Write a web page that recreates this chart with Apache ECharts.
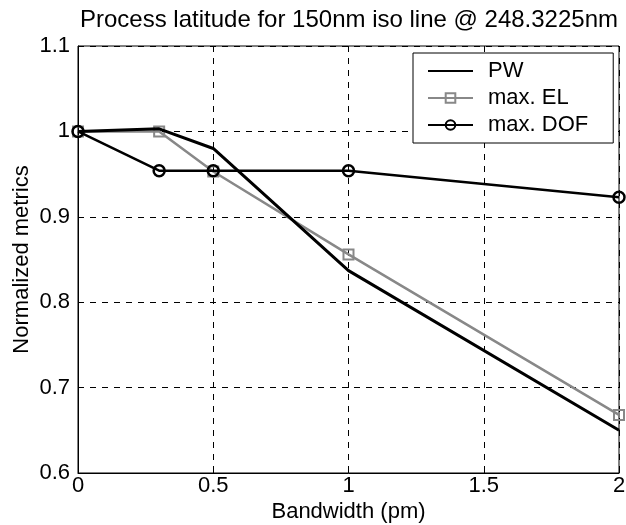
<!DOCTYPE html>
<html>
<head>
<meta charset="utf-8">
<script src="https://cdn.jsdelivr.net/npm/echarts@6/dist/echarts.min.js"></script>
<style>
  html, body { margin: 0; padding: 0; background: #fff; overflow: hidden; }
  #chart { width: 626px; height: 525px; display: block; }
</style>
</head>
<body>
<div id="chart"></div>
<script>
// Bandwidth values (pm) and normalized process-window metrics
const bandwidth = [0, 0.3, 0.5, 1, 2];
const pw        = [1.0, 1.003, 0.980, 0.837, 0.650];
const maxEL     = [1.0, 1.000, 0.953, 0.856, 0.668];
const maxDOF    = [1.0, 0.954, 0.954, 0.954, 0.923];

const xTicks = ['0', '0.5', '1', '1.5', '2'];
const yTicks = ['0.6', '0.7', '0.8', '0.9', '1', '1.1'];

const FONT = 'Liberation Sans, Arial, sans-serif';

function pairs(ys) {
  return bandwidth.map((x, i) => [x, ys[i]]);
}

const chart = echarts.init(document.getElementById('chart'), null, { renderer: 'canvas', width: 626, height: 525 });

chart.setOption({
  backgroundColor: '#fff',
  animation: false,
  title: {
    text: 'Process latitude for 150nm iso line @ 248.3225nm',
    left: 344,
    textAlign: 'center',
    top: 3,
    textStyle: { fontFamily: FONT, fontSize: 24, fontWeight: 'normal', color: '#000' }
  },
  legend: {
    orient: 'vertical',
    left: 413,
    top: 53,
    padding: [7, 25, 7, 14],
    itemGap: 5,
    itemWidth: 45,
    itemHeight: 12,
    backgroundColor: '#fff',
    borderColor: '#000',
    borderWidth: 1,
    textStyle: { fontFamily: FONT, fontSize: 22, color: '#000', padding: [0, 0, 0, 10] },
    data: [
      { name: 'PW', itemStyle: { opacity: 0 } },
      'max. EL',
      'max. DOF'
    ]
  },
  grid: {
    left: 78,
    right: 7,
    top: 46,
    bottom: 52,
    containLabel: false,
    outerBoundsMode: 'none',
    show: true,
    borderColor: '#000',
    borderWidth: 1,
    backgroundColor: '#fff'
  },
  xAxis: {
    type: 'value',
    min: 0,
    max: 2,
    interval: 0.5,
    name: 'Bandwidth (pm)',
    nameLocation: 'middle',
    nameGap: 28,
    nameMoveOverlap: false,
    nameTextStyle: { fontFamily: FONT, fontSize: 22, color: '#000' },
    axisLine: { show: true, lineStyle: { color: '#000', width: 1 } },
    axisTick: { show: true, inside: true, length: 5, lineStyle: { color: '#000' } },
    axisLabel: {
      fontFamily: FONT, fontSize: 22, color: '#000', margin: 2,
      formatter: v => xTicks[Math.round(v / 0.5)]
    },
    splitLine: { show: true, lineStyle: { color: '#000', type: [6, 6], width: 1 } }
  },
  yAxis: {
    type: 'value',
    min: 0.6,
    max: 1.1,
    interval: 0.1,
    name: 'Normalized metrics',
    nameLocation: 'middle',
    nameGap: 45,
    nameMoveOverlap: false,
    nameTextStyle: { fontFamily: FONT, fontSize: 22, color: '#000' },
    axisLine: { show: true, lineStyle: { color: '#000', width: 1 } },
    axisTick: { show: true, inside: true, length: 5, lineStyle: { color: '#000' } },
    axisLabel: {
      fontFamily: FONT, fontSize: 22, color: '#000', margin: 8,
      formatter: v => yTicks[Math.round((v - 0.6) / 0.1)]
    },
    splitLine: { show: true, lineStyle: { color: '#000', type: [6, 6], width: 1 } }
  },
  series: [
    {
      name: 'PW',
      type: 'line',
      data: pairs(pw),
      symbol: 'none',
      lineStyle: { color: '#000', width: 3 },
      itemStyle: { color: '#000' },
      z: 3
    },
    {
      name: 'max. EL',
      type: 'line',
      data: pairs(maxEL),
      symbol: 'rect',
      symbolSize: 10,
      lineStyle: { color: '#888', width: 2.5 },
      itemStyle: { color: 'rgba(255,255,255,0)', borderColor: '#888', borderWidth: 2 },
      z: 2
    },
    {
      name: 'max. DOF',
      type: 'line',
      data: pairs(maxDOF),
      symbol: 'circle',
      symbolSize: 11,
      lineStyle: { color: '#000', width: 2.5 },
      itemStyle: { color: 'rgba(255,255,255,0)', borderColor: '#000', borderWidth: 2.5 },
      z: 4
    }
  ]
});
</script>
</body>
</html>
